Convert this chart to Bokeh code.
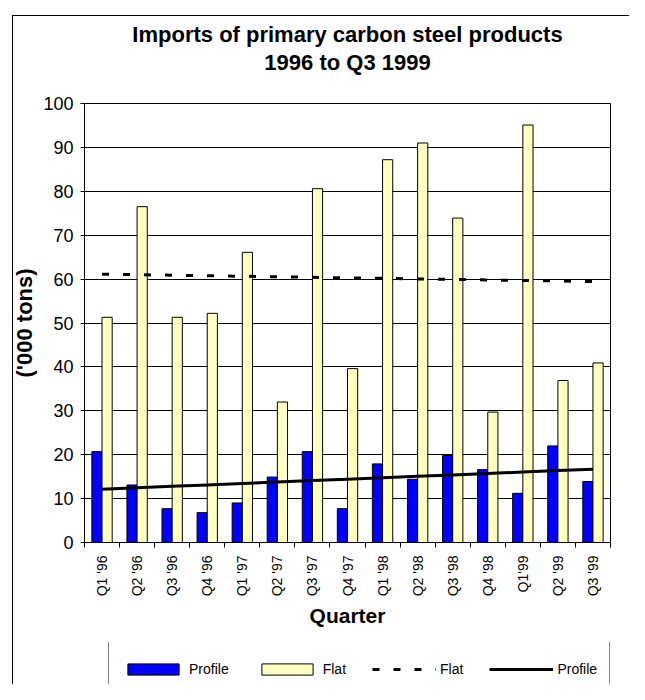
import math
import numpy as np
from bokeh.plotting import figure
from bokeh.layouts import column
from bokeh.models import (Range1d, FixedTicker, Legend, LegendItem, Title, ColumnDataSource)
from bokeh.embed import file_html
from bokeh.resources import INLINE

quarters = ["Q1 '96", "Q2 '96", "Q3 '96", "Q4 '96", "Q1 '97", "Q2 '97", "Q3 '97",
            "Q4 '97", "Q1 '98", "Q2 '98", "Q3 '98", "Q4 '98", "Q1'99", "Q2 '99", "Q3 '99"]
profile = [20.7, 13.1, 7.7, 6.8, 9.0, 14.9, 20.7, 7.7, 17.9, 14.4, 19.8, 16.6, 11.2, 22.0, 13.9]
flat = [51.3, 76.5, 51.3, 52.2, 66.1, 32.0, 80.6, 39.6, 87.2, 91.0, 73.9, 29.7, 95.1, 36.9, 40.9]
y_ticks = list(range(0, 101, 10))

FONT = "Liberation Sans"
n = len(quarters)
xs = np.arange(1, n + 1)

# linear trend lines (least squares, as in the original chart's trendlines)
flat_trend = np.polyval(np.polyfit(xs, flat, 1), xs)
profile_trend = np.polyval(np.polyfit(xs, profile, 1), xs)

src = ColumnDataSource(dict(x=xs, xp=xs - 0.145, xf=xs + 0.145, profile=profile, flat=flat,
                            ft=flat_trend, pt=profile_trend))

BAR_P = dict(fill_color="#0000FF", line_color="black", line_width=1)
BAR_F = dict(fill_color="#FFFFC0", line_color="black", line_width=1)
LINE_F = dict(line_color="black", line_width=3, line_dash="7 14")
LINE_P = dict(line_color="black", line_width=3)

# ---------------- main chart ----------------
p = figure(width=629, height=642, x_range=Range1d(0.5, n + 0.5), y_range=Range1d(0, 100),
           output_backend="svg", toolbar_location=None, title=None,
           min_border_left=84, min_border_right=19, min_border_top=103, min_border_bottom=100)
p.background_fill_color = "white"
p.border_fill_color = None
p.outline_line_color = "black"
p.outline_line_width = 1

# titles, inner first: a small blank spacer, then the two title lines
p.add_layout(Title(text=" ", text_font=FONT, text_font_size="10px", standoff=15), "above")
p.add_layout(Title(text="1996 to Q3 1999", align="center",
                   text_font=FONT, text_font_size="22px", text_font_style="bold",
                   text_color="black", standoff=1, offset=2), "above")
p.add_layout(Title(text="Imports of primary carbon steel products", align="center",
                   text_font=FONT, text_font_size="22px",
                   text_font_style="bold", text_color="black", standoff=1, offset=2), "above")

p.vbar(x="xp", top="profile", width=0.29, source=src, **BAR_P)
p.vbar(x="xf", top="flat", width=0.29, source=src, **BAR_F)
p.line(x="x", y="ft", source=src, **LINE_F)
p.line(x="x", y="pt", source=src, **LINE_P)

xa = p.xaxis[0]
xa.ticker = FixedTicker(ticks=list(xs), minor_ticks=list(np.arange(0.5, n + 1, 1.0)))
xa.major_label_overrides = {int(i): q for i, q in zip(xs, quarters)}
xa.major_label_orientation = math.pi / 2
xa.major_tick_line_color = None
xa.major_tick_in = 0
xa.major_tick_out = 0
xa.minor_tick_in = 0
xa.minor_tick_out = 5
xa.minor_tick_line_color = "black"
xa.axis_line_color = "black"
xa.major_label_text_font = FONT
xa.major_label_text_font_size = "14px"
xa.major_label_text_color = "black"
xa.major_label_standoff = 8
xa.axis_label = "Quarter"
xa.axis_label_text_font = FONT
xa.axis_label_text_font_size = "21px"
xa.axis_label_text_font_style = "bold"
xa.axis_label_text_color = "black"
xa.axis_label_standoff = 5

ya = p.yaxis[0]
ya.ticker = FixedTicker(ticks=y_ticks)
ya.major_tick_in = 0
ya.major_tick_out = 4
ya.minor_tick_line_color = None
ya.axis_line_color = "black"
ya.major_label_text_font = FONT
ya.major_label_text_font_size = "18px"
ya.major_label_text_color = "black"
ya.major_label_standoff = 7
ya.axis_label = "('000 tons)"
ya.axis_label_text_font = FONT
ya.axis_label_text_font_size = "22px"
ya.axis_label_text_font_style = "bold"
ya.axis_label_text_color = "black"
ya.axis_label_standoff = 3

p.xgrid.grid_line_color = None
p.ygrid.ticker = FixedTicker(ticks=y_ticks)
p.ygrid.grid_line_color = "black"
p.ygrid.grid_line_width = 1

# ---------------- legend strip (frame aligned with the chart's frame) ----------------
q = figure(width=629, height=42, x_range=Range1d(100, 101), y_range=Range1d(0, 1),
           output_backend="svg", toolbar_location=None, title=None, tools=[],
           x_axis_location=None, y_axis_location=None,
           min_border_left=84, min_border_right=19, min_border_top=0, min_border_bottom=0)
q.background_fill_color = "white"
q.background_fill_alpha = 0
q.border_fill_color = None
q.outline_line_color = None
q.grid.grid_line_color = None
lp = q.vbar(x="xp", top="profile", width=0.29, source=src, visible=False, **BAR_P)
lf = q.vbar(x="xf", top="flat", width=0.29, source=src, visible=False, **BAR_F)
lft = q.line(x="x", y="ft", source=src, visible=False, **LINE_F)
lpt = q.line(x="x", y="pt", source=src, visible=False, **LINE_P)

legend = Legend(items=[LegendItem(label="Profile", renderers=[lp]),
                       LegendItem(label="Flat", renderers=[lf]),
                       LegendItem(label="Flat", renderers=[lft]),
                       LegendItem(label="Profile", renderers=[lpt])],
                orientation="horizontal", location=(24, -13), glyph_width=64,
                glyph_height=14, label_height=30, label_standoff=4, spacing=26,
                padding=12, margin=0, border_line_color="black", border_line_width=1,
                background_fill_color="white",
                label_text_font=FONT, label_text_font_size="14px", label_text_color="black")
q.add_layout(legend, "center")

page = column(p, q, spacing=0, styles={
    "background-color": "white",
    "background-image": "linear-gradient(#000, #000), linear-gradient(#000, #000)",
    "background-position": "12px 15px, 12px 15px",
    "background-size": "1px 100%, 100% 1px",
    "background-repeat": "no-repeat",
})

open("out.html", "w").write(file_html(page, INLINE))
